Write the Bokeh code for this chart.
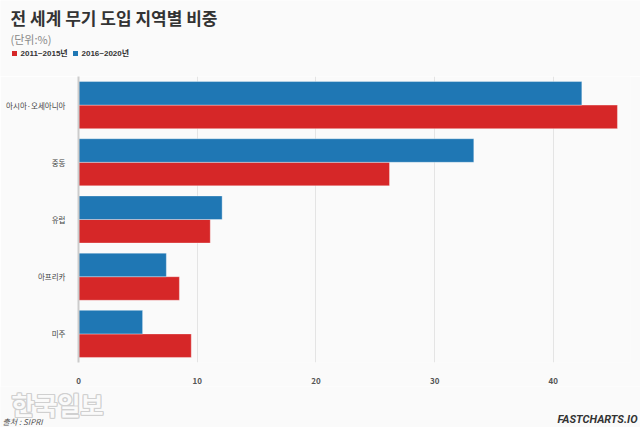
from bokeh.plotting import figure
from bokeh.models import ColumnDataSource, FactorRange, Range1d, FixedTicker
from bokeh.layouts import column
from bokeh.transform import dodge
from bokeh.core.properties import value
from bokeh.embed import file_html
from bokeh.resources import INLINE

regions = ["아시아·오세아니아", "중동", "유럽", "아프리카", "미주"]
share_2011_2015 = [45.4, 26.2, 11.1, 8.5, 9.5]
share_2016_2020 = [42.4, 33.3, 12.1, 7.4, 5.4]
series_names = ["2011~2015년", "2016~2020년"]
x_ticks = [0, 10, 20, 30, 40]

RED = "#d62728"
BLUE = "#1f77b4"
BG = "#fafafa"
FONT = "Noto Sans CJK KR"

W = 640
HEAD_H = 76
MAIN_H = 310
FOOT_H = 427 - HEAD_H - MAIN_H


def blank(h, y0):
    f = figure(width=W, height=h, output_backend="svg", toolbar_location=None,
               x_range=Range1d(0, W), y_range=Range1d(y0 + h, y0),
               x_axis_type=None, y_axis_type=None, min_border=0)
    f.background_fill_color = BG
    f.border_fill_color = BG
    f.outline_line_color = None
    f.grid.visible = False
    f.frame_align = False
    return f


# ---- header ----
head = blank(HEAD_H, 0)
head.text(x=[10], y=[17], text=["전 세계 무기 도입 지역별 비중"], text_font=value(FONT),
          text_font_size="17px", text_font_style="bold", text_color="#333333",
          text_baseline="middle")
head.text(x=[10], y=[38], text=["(단위:%)"], text_font=value(FONT),
          text_font_size="11px", text_color="#888888", text_baseline="middle")
head.rect(x=[14, 75], y=[53, 53], width=5, height=5, fill_color=[RED, BLUE], line_color=None)
head.text(x=[20, 81], y=[53, 53], text=series_names,
          text_font=value("Liberation Sans, Noto Sans CJK KR"),
          text_font_size="8px", text_font_style="bold", text_color="#333333",
          text_baseline="middle")

# ---- main chart ----
src = ColumnDataSource(dict(region=regions, a=share_2011_2015, b=share_2016_2020))

p = figure(width=W, height=MAIN_H, output_backend="svg", toolbar_location=None,
           y_range=FactorRange(factors=list(reversed(regions))),
           x_range=Range1d(0, 46.5),
           min_border_left=78, min_border_right=10, min_border_top=0,
           min_border_bottom=MAIN_H - 291)
p.background_fill_color = BG
p.border_fill_color = BG
p.outline_line_color = None
p.frame_align = False

p.hbar(y=dodge("region", -0.206, range=p.y_range), right="a", left=0, height=0.412,
       source=src, fill_color=RED, line_color="white", line_alpha=0.35, line_width=1)
p.hbar(y=dodge("region", 0.206, range=p.y_range), right="b", left=0, height=0.412,
       source=src, fill_color=BLUE, line_color="white", line_alpha=0.35, line_width=1)

p.ygrid.grid_line_color = None
p.xgrid.grid_line_color = "#e4e4e4"
p.xgrid.ticker = FixedTicker(ticks=x_ticks)

p.xaxis.ticker = FixedTicker(ticks=x_ticks)
p.xaxis.axis_line_color = None
p.xaxis.major_tick_line_color = None
p.xaxis.minor_tick_line_color = None
p.xaxis.major_label_text_font = FONT
p.xaxis.major_label_text_font_size = "8px"
p.xaxis.major_label_text_font_style = "bold"
p.xaxis.major_label_text_color = "#555555"
p.xaxis.major_label_standoff = 9

p.yaxis.axis_line_color = "#cccccc"
p.yaxis.axis_line_width = 2
p.yaxis.major_tick_line_color = None
p.yaxis.minor_tick_line_color = None
p.yaxis.major_label_text_font = FONT
p.yaxis.major_label_text_font_size = "7.5px"
p.yaxis.major_label_text_color = "#444444"
p.yaxis.major_label_standoff = 7

# ---- footer ----
y0 = HEAD_H + MAIN_H
foot = blank(FOOT_H, y0)
for dx, dy in [(-1, 0), (1, 0), (0, -1), (0, 1), (-1, -1), (1, 1), (-1, 1), (1, -1)]:
    foot.text(x=[11 + dx], y=[403 + dy], text=["한국일보"], text_font=value(FONT),
              text_font_size="25px", text_font_style="bold", text_color="#d0d0d0",
              text_baseline="middle")
foot.text(x=[11], y=[403], text=["한국일보"], text_font=value(FONT),
          text_font_size="25px", text_font_style="bold", text_color=BG,
          text_baseline="middle")
foot.text(x=[2], y=[421], text=["출처 : SIPRI"], text_font=value(FONT),
          text_font_size="8px", text_font_style="italic", text_color="#555555",
          text_baseline="middle")
foot.text(x=[637], y=[419], text=["FASTCHARTS.IO"], text_font=value("Roboto"),
          text_font_size="11px", text_font_style="bold italic", text_color="#333333",
          text_baseline="middle", text_align="right")

layout = column(head, p, foot, spacing=0)
open("out.html", "w").write(file_html(layout, INLINE))
